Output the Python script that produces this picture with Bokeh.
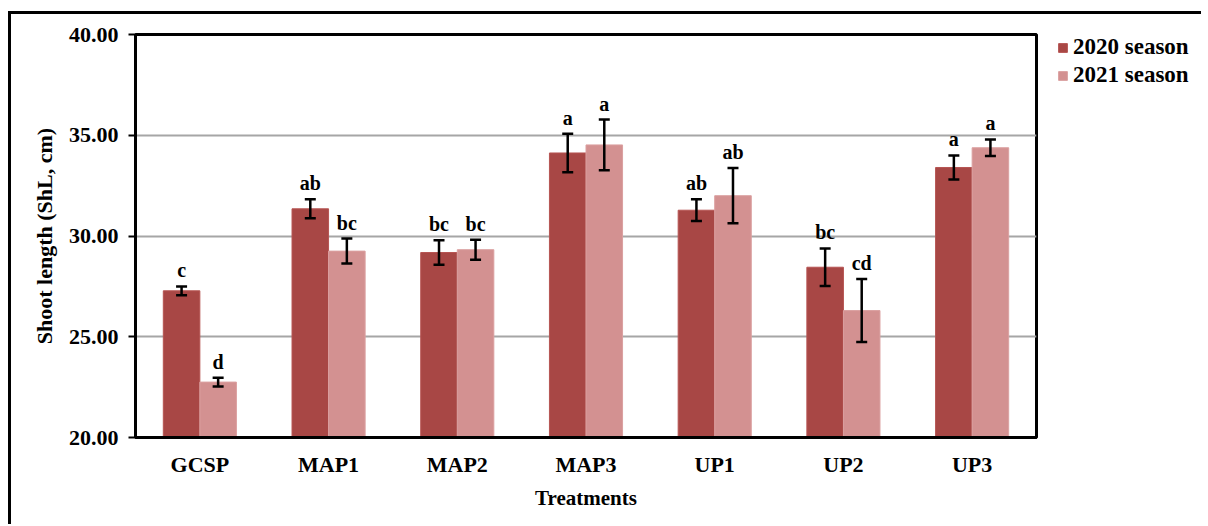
from bokeh.plotting import figure
from bokeh.layouts import row
from bokeh.models import (ColumnDataSource, FactorRange, Whisker, TeeHead, LabelSet,
                          Legend, LegendItem, FixedTicker, NumeralTickFormatter, Range1d)
from bokeh.transform import dodge
from bokeh.embed import file_html
from bokeh.resources import INLINE

treatments = ["GCSP", "MAP1", "MAP2", "MAP3", "UP1", "UP2", "UP3"]
season_2020 = [27.28, 31.35, 29.18, 34.12, 31.28, 28.45, 33.40]
err_2020 = [0.22, 0.47, 0.61, 0.96, 0.54, 0.93, 0.60]
letters_2020 = ["c", "ab", "bc", "a", "ab", "bc", "a"]
season_2021 = [22.75, 29.25, 29.32, 34.52, 32.00, 26.30, 34.38]
err_2021 = [0.22, 0.62, 0.50, 1.26, 1.37, 1.56, 0.41]
letters_2021 = ["d", "bc", "bc", "a", "ab", "cd", "a"]
y_ticks = [20, 25, 30, 35, 40]
series_names = ["2020 season", "2021 season"]

FONT = "Liberation Serif"
C2020 = "#A84745"
C2021 = "#D39191"

src = ColumnDataSource(dict(
    x=treatments,
    v20=season_2020, v21=season_2021,
    up20=[v + e for v, e in zip(season_2020, err_2020)],
    lo20=[v - e for v, e in zip(season_2020, err_2020)],
    up21=[v + e for v, e in zip(season_2021, err_2021)],
    lo21=[v - e for v, e in zip(season_2021, err_2021)],
    l20=letters_2020, l21=letters_2021,
))

H = 510
p = figure(x_range=FactorRange(*treatments, range_padding=0), y_range=Range1d(20, 40),
           width=1030, height=H, output_backend="svg", toolbar_location=None,
           min_border_left=124, min_border_right=5, min_border_top=20, min_border_bottom=87)

off = 0.142
bw = 0.284
p.vbar(x=dodge("x", -off, range=p.x_range), top="v20", bottom=20, width=bw,
       source=src, fill_color=C2020, line_color="#B65452", line_width=1)
p.vbar(x=dodge("x", off, range=p.x_range), top="v21", bottom=20, width=bw,
       source=src, fill_color=C2021, line_color="#DBA0A0", line_width=1)

for dx, up, lo in [(-off, "up20", "lo20"), (off, "up21", "lo21")]:
    w = Whisker(base=dodge("x", dx, range=p.x_range), upper=up, lower=lo, source=src,
                line_color="black", line_width=2.5, level="overlay",
                upper_head=TeeHead(size=11, line_width=2.5, line_color="black"),
                lower_head=TeeHead(size=11, line_width=2.5, line_color="black"))
    p.add_layout(w)

for dx, up, lab in [(-off, "up20", "l20"), (off, "up21", "l21")]:
    ls = LabelSet(x=dodge("x", dx, range=p.x_range), y=up, text=lab, source=src,
                  text_align="center", text_baseline="bottom", y_offset=5,
                  text_font=FONT, text_font_style="bold", text_font_size="20px",
                  text_color="black")
    p.add_layout(ls)

# axes
p.yaxis.ticker = FixedTicker(ticks=y_ticks)
p.yaxis.formatter = NumeralTickFormatter(format="0.00")
p.yaxis.axis_label = "Shoot length (ShL, cm)"
p.xaxis.axis_label = "Treatments"
for ax in [p.xaxis[0], p.yaxis[0]]:
    ax.axis_label_text_font = FONT
    ax.axis_label_text_font_style = "bold"
    ax.axis_label_text_font_size = "21px"
    ax.major_label_text_font = FONT
    ax.major_label_text_font_style = "bold"
    ax.major_label_text_color = "black"
    ax.axis_label_text_color = "black"
    ax.minor_tick_line_color = None
    ax.axis_line_color = "black"
    ax.axis_line_width = 3
p.yaxis.axis_label_text_font_size = "22px"
p.yaxis.major_label_text_font_size = "22px"
p.xaxis.major_label_text_font_size = "22px"
p.yaxis.major_tick_out = 7
p.yaxis.major_tick_in = 0
p.yaxis.major_tick_line_width = 2
p.yaxis.major_tick_line_color = "black"
p.yaxis.major_label_standoff = 10
p.yaxis.axis_label_standoff = 9
p.xaxis.major_tick_line_color = None
p.xaxis.major_label_standoff = 8
p.xaxis.axis_label_standoff = 6

p.xgrid.grid_line_color = None
p.ygrid.grid_line_color = "#A6A6A6"
p.ygrid.grid_line_width = 2

p.outline_line_color = "black"
p.outline_line_width = 3

# legend panel
pl = figure(width=160, height=H, output_backend="svg", toolbar_location=None,
            x_axis_type=None, y_axis_type=None,
            min_border_left=16, min_border_top=16, min_border_right=0, min_border_bottom=0,
            x_range=Range1d(0, 1), y_range=Range1d(0, 1))
pl.outline_line_color = None
pl.grid.grid_line_color = None
# swatch renderers: their single bar lies outside the visible range, only the legend shows
g20 = pl.vbar(x=[5], top=[5], bottom=[4], width=0.1, fill_color=C2020, line_color="#B65452")
g21 = pl.vbar(x=[5], top=[5], bottom=[4], width=0.1, fill_color=C2021, line_color="#DBA0A0")
legend = Legend(items=[LegendItem(label=series_names[0], renderers=[g20]),
                       LegendItem(label=series_names[1], renderers=[g21])],
                location="top_left", orientation="vertical")
legend.label_text_font = FONT
legend.label_text_font_style = "bold"
legend.label_text_font_size = "23px"
legend.label_text_color = "black"
legend.glyph_width = 11
legend.glyph_height = 11
legend.label_standoff = 5
legend.spacing = 2
legend.padding = 0
legend.margin = 0
legend.border_line_color = None
legend.background_fill_alpha = 0
legend.label_height = 22
pl.add_layout(legend)

layout = row(p, pl, spacing=0)
layout.styles = {"border-left": "3px solid black", "border-top": "3px solid black",
                 "margin-left": "8px", "margin-top": "11px"}

open("out.html", "w").write(file_html(layout, INLINE))
